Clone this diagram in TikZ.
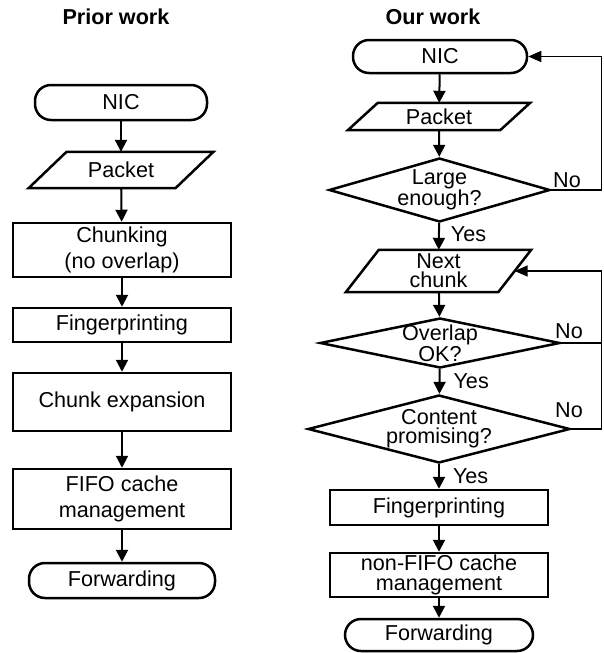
\documentclass[tikz,border=0pt]{standalone}
\usepackage{fontspec}
\setmainfont{Liberation Sans}
\usetikzlibrary{shapes.geometric,arrows.meta}

\begin{document}
\begin{tikzpicture}[x=1pt,y=-1pt,
    every node/.style={font=\fontsize{21.6}{26}\selectfont},
    title/.style={font=\fontsize{21.6}{26}\selectfont\bfseries},
    term/.style={draw,line width=2.5pt,rounded corners=16pt,inner sep=0pt},
    proc/.style={draw,line width=2.5pt,inner sep=0pt,align=center},
    io/.style={inner sep=0pt,align=center},
    outline/.style={line width=2.5pt,line join=miter},
    dec/.style={draw,line width=2.5pt,diamond,inner xsep=0pt,inner ysep=-12pt,align=center},
    tight/.style={font=\fontsize{21.6}{19}\selectfont},
    flow/.style={line width=2pt,-{Triangle[width=12pt,length=12pt]}},
    back/.style={line width=1.5pt,-{Triangle[width=11pt,length=13pt]}},
    lbl/.style={inner sep=0pt}]
    \useasboundingbox (0,0) rectangle (603,653);

    % Prior work
    \node[title] (titleL) at (116,17) {Prior work};
    \node[term,minimum width=172pt,minimum height=35pt] (nicL) at (121,102.5) {NIC};
    \node[io,minimum width=146.5pt,minimum height=36pt] (pktL) at (121,170) {Packet};
    \draw[outline] ([xshift=-19pt]pktL.south west) -- ([xshift=-19pt]pktL.south east)
      -- ([xshift=19pt]pktL.north east) -- ([xshift=19pt]pktL.north west) -- cycle;
    \node[proc,minimum width=218pt,minimum height=54pt] (chunkL) at (122,250) {Chunking\\(no overlap)};
    \node[proc,minimum width=218pt,minimum height=34pt] (fpL) at (122,325) {Fingerprinting};
    \node[proc,minimum width=218pt,minimum height=58pt] (expL) at (122,402) {Chunk expansion};
    \node[proc,minimum width=218pt,minimum height=60pt] (fifoL) at (122,499) {FIFO cache\\management};
    \node[term,minimum width=186pt,minimum height=35pt] (fwdL) at (122,580.5) {Forwarding};

    \draw[flow] (nicL) -- (pktL);
    \draw[flow] (pktL) -- (chunkL);
    \draw[flow] (chunkL) -- (fpL);
    \draw[flow] (fpL) -- (expL);
    \draw[flow] (expL) -- (fifoL);
    \draw[flow] (fifoL) -- (fwdL);

    % Our work
    \node[title] (titleR) at (433,17) {Our work};
    \node[term,minimum width=174pt,minimum height=33pt] (nicR) at (440,56.5) {NIC};
    \node[io,minimum width=152pt,minimum height=27pt] (pktR) at (439,116.5) {Packet};
    \draw[outline] ([xshift=-15pt]pktR.south west) -- ([xshift=-15pt]pktR.south east)
      -- ([xshift=15pt]pktR.north east) -- ([xshift=15pt]pktR.north west) -- cycle;
    \node[dec,tight,aspect=3.45,minimum width=221pt,minimum height=64pt] (largeR) at (439.5,190) {Large\\enough?};
    \node[io,tight,minimum width=152pt,minimum height=42pt] (nextR) at (438.5,271) {Next\\chunk};
    \draw[outline] ([xshift=-16.5pt]nextR.south west) -- ([xshift=-16.5pt]nextR.south east)
      -- ([xshift=16.5pt]nextR.north east) -- ([xshift=16.5pt]nextR.north west) -- cycle;
    \node[dec,tight,aspect=4.8,minimum width=240pt,minimum height=50pt] (ovlR) at (440,343) {Overlap\\OK?};
    \node[dec,tight,aspect=3.85,minimum width=262pt,minimum height=68pt] (contR) at (439,429) {Content\\promising?};
    \node[proc,minimum width=218pt,minimum height=35pt] (fpR) at (439,507.5) {Fingerprinting};
    \node[proc,font=\fontsize{21.6}{20}\selectfont,minimum width=218pt,minimum height=44pt] (cacheR) at (439,575) {non-FIFO cache\\management};
    \node[term,minimum width=188pt,minimum height=32pt] (fwdR) at (439,635) {Forwarding};

    \draw[flow] (nicR) -- (pktR);
    \draw[flow] (pktR) -- (largeR);
    \draw[flow] (largeR) -- (nextR) node[lbl,midway,anchor=west,xshift=11pt,yshift=2pt] (yesA) {Yes};
    \draw[flow] (nextR) -- (ovlR);
    \draw[flow] (ovlR) -- (contR) node[lbl,midway,anchor=west,xshift=13pt] (yesB) {Yes};
    \draw[flow] (contR) -- (fpR) node[lbl,midway,anchor=west,xshift=13pt] (yesC) {Yes};
    \draw[flow] (fpR) -- (cacheR);
    \draw[flow] (cacheR) -- (fwdR);

    % feedback loops
    \coordinate (rtA) at (601.5,190);
    \coordinate (rtB) at (601.5,429);
    \draw[back] (largeR.east) -- (rtA) |- (nicR.east);
    \draw[line width=1.5pt] (ovlR.east) -- (ovlR.east -| rtB);
    \draw[back] (contR.east) -- (rtB) |- (nextR.east);
    \node[lbl] (noA) at (567,180) {No};
    \node[lbl] (noB) at (569,331) {No};
    \node[lbl] (noC) at (569,410) {No};
\end{tikzpicture}
\end{document}
